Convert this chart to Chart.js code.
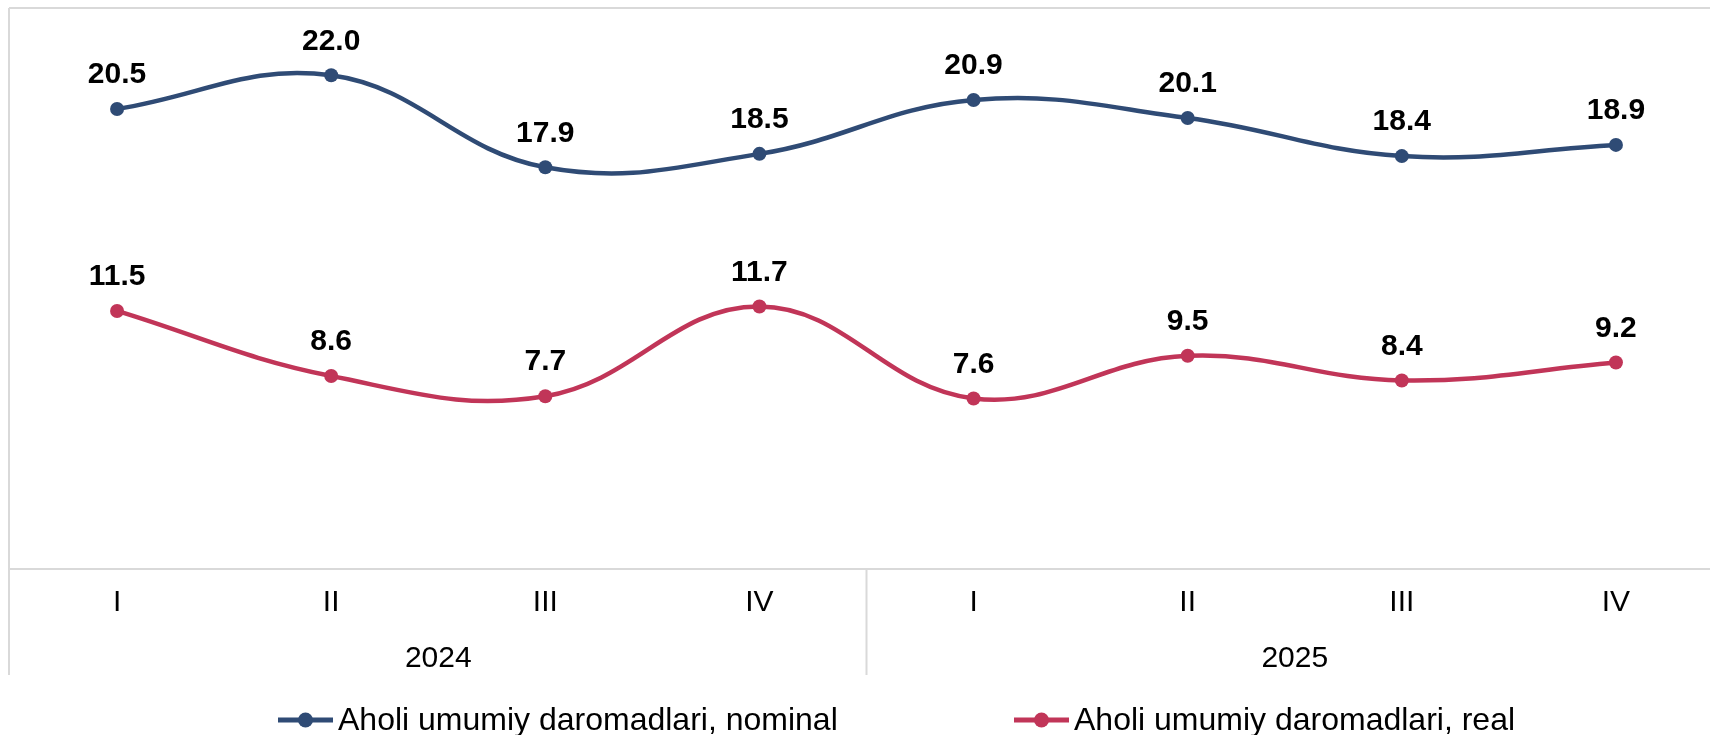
<!DOCTYPE html>
<html>
<head>
<meta charset="utf-8">
<script src="https://cdn.jsdelivr.net/npm/chart.js@4.4.1/dist/chart.umd.min.js"></script>
<style>
  html, body { margin: 0; padding: 0; background: #fff; overflow: hidden; }
  #wrap { width: 1710px; height: 735px; overflow: hidden; }
</style>
</head>
<body>
<div id="wrap"><canvas id="incomeChart" width="1730" height="735"></canvas></div>
<script>
const quarters = ['I', 'II', 'III', 'IV', 'I', 'II', 'III', 'IV'];
const years = ['2024', '2025'];
const nominal = [20.5, 22.0, 17.9, 18.5, 20.9, 20.1, 18.4, 18.9];
const real = [11.5, 8.6, 7.7, 11.7, 7.6, 9.5, 8.4, 9.2];
const seriesNames = ['Aholi umumiy daromadlari, nominal', 'Aholi umumiy daromadlari, real'];

const frameColor = '#d9d9d9';
const fontFamily = '"Liberation Sans", Arial, sans-serif';

// ramka, yillar va ajratgichlar
const framePlugin = {
    id: 'frame',
    beforeDraw(chart) {
        const { ctx, chartArea } = chart;
        const x = chart.scales.x;
        ctx.save();
        ctx.strokeStyle = frameColor;
        ctx.lineWidth = 2;
        ctx.beginPath();
        ctx.moveTo(chartArea.left - 1, chartArea.top);
        ctx.lineTo(chart.width, chartArea.top);
        ctx.moveTo(chartArea.left - 1, chartArea.top);
        ctx.lineTo(chartArea.left - 1, 675);
        ctx.moveTo(chartArea.left - 1, chartArea.bottom);
        ctx.lineTo(chart.width, chartArea.bottom);
        const mid = (x.getPixelForValue(3) + x.getPixelForValue(4)) / 2;
        ctx.moveTo(mid, chartArea.bottom);
        ctx.lineTo(mid, 675);
        ctx.stroke();

        ctx.fillStyle = '#000';
        ctx.font = '30px ' + fontFamily;
        ctx.textAlign = 'center';
        ctx.textBaseline = 'middle';
        years.forEach((y, i) => {
            const cx = (x.getPixelForValue(i * 4 + 1) + x.getPixelForValue(i * 4 + 2)) / 2;
            ctx.fillText(y, cx, 659);
        });
        ctx.restore();
    },
    afterDatasetsDraw(chart) {
        const { ctx } = chart;
        ctx.save();
        ctx.fillStyle = '#000';
        ctx.font = 'bold 30px ' + fontFamily;
        ctx.textAlign = 'center';
        ctx.textBaseline = 'middle';
        chart.data.datasets.forEach((ds, i) => {
            chart.getDatasetMeta(i).data.forEach((pt, j) => {
                ctx.fillText(ds.data[j].toFixed(1), pt.x, pt.y - 34);
            });
        });
        ctx.restore();
    },
    afterDraw(chart) {
        const { ctx } = chart;
        const items = [{ x: 278 }, { x: 1014 }];
        ctx.save();
        ctx.font = '32px ' + fontFamily;
        ctx.textBaseline = 'middle';
        chart.data.datasets.forEach((ds, i) => {
            const lx = items[i].x, ly = 720;
            ctx.strokeStyle = ds.borderColor;
            ctx.lineWidth = 5;
            ctx.beginPath();
            ctx.moveTo(lx, ly);
            ctx.lineTo(lx + 55, ly);
            ctx.stroke();
            ctx.fillStyle = ds.borderColor;
            ctx.beginPath();
            ctx.arc(lx + 27.5, ly, 7.5, 0, Math.PI * 2);
            ctx.fill();
            ctx.fillStyle = '#000';
            ctx.fillText(ds.label, lx + 60, ly + 1);
        });
        ctx.restore();
    }
};

const ctx = document.getElementById('incomeChart').getContext('2d');

new Chart(ctx, {
    type: 'line',
    data: {
        labels: quarters,
        datasets: [
            { label: seriesNames[0], data: nominal, borderColor: '#2f4b75', backgroundColor: '#2f4b75' },
            { label: seriesNames[1], data: real, borderColor: '#c13558', backgroundColor: '#c13558' }
        ].map(ds => ({
            ...ds,
            borderWidth: 4.5,
            pointRadius: 7,
            pointBorderWidth: 0,
            tension: 0.4,
            fill: false
        }))
    },
    options: {
        responsive: false,
        animation: false,
        layout: { padding: { left: 10, top: 8, right: 6, bottom: 0 } },
        plugins: {
            legend: { display: false },
            tooltip: { enabled: false }
        },
        scales: {
            x: {
                offset: true,
                grid: { display: false, drawTicks: false },
                border: { display: false },
                ticks: {
                    color: '#000',
                    font: { size: 30, family: fontFamily },
                    padding: 16,
                    maxRotation: 0,
                    autoSkip: false
                },
                afterFit(scale) { scale.height = 166; }
            },
            y: {
                display: false,
                min: 0,
                max: 25
            }
        }
    },
    plugins: [framePlugin]
});
</script>
</body>
</html>
